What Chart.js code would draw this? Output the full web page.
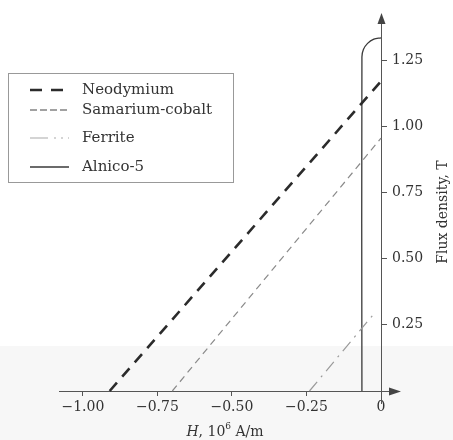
<!DOCTYPE html>
<html>
<head>
<meta charset="utf-8">
<script src="https://cdn.jsdelivr.net/npm/chart.js@4"></script>
<style>
  html, body { margin: 0; padding: 0; background: #fff; }
  #wrap { width: 453px; height: 440px; }
</style>
</head>
<body>
<div id="wrap"><canvas id="bh"></canvas></div>
<script>
// tick values
const hTicks = [-1.00, -0.75, -0.50, -0.25, 0];
const bTicks = [0.25, 0.50, 0.75, 1.00, 1.25];

// demagnetization curves, H in 10^6 A/m, B in T
const seriesNames = ['Neodymium', 'Samarium-cobalt', 'Ferrite', 'Alnico-5'];
const neodymiumH = [-0.91, 0];
const neodymiumB = [0, 1.17];
const samariumH = [-0.70, 0];
const samariumB = [0, 0.955];
const ferriteH = [-0.24, -0.025];
const ferriteB = [0, 0.29];
const alnicoH = [-0.064, -0.064, -0.059, -0.045, -0.024, 0];
const alnicoB = [0, 1.262, 1.290, 1.313, 1.329, 1.334];

const serif = "'DejaVu Serif', serif";
const ink = '#333';

function pts(hs, bs) {
    return hs.map((h, i) => ({ x: h, y: bs[i] }));
}

// legend rows (y in px) - legend is drawn by hand to get the boxed look
const legendRows = [90, 110, 138, 167];

const decorations = {
    id: 'decorations',
    beforeDraw(chart) {
        const ctx = chart.ctx;
        ctx.save();
        ctx.fillStyle = '#fff';
        ctx.fillRect(0, 0, chart.width, chart.height);
        // faint scan shading at the bottom
        ctx.fillStyle = '#f7f7f7';
        ctx.fillRect(0, 346, chart.width, chart.height - 346);
        ctx.restore();
    },
    afterDraw(chart) {
        const ctx = chart.ctx;
        const a = chart.chartArea;
        ctx.save();
        ctx.strokeStyle = '#555';
        ctx.fillStyle = '#444';
        ctx.lineWidth = 1;
        // x axis run-out + arrow
        ctx.beginPath();
        ctx.moveTo(a.right, a.bottom + 0.5);
        ctx.lineTo(392, a.bottom + 0.5);
        ctx.stroke();
        ctx.beginPath();
        ctx.moveTo(401, a.bottom + 0.5);
        ctx.lineTo(389, a.bottom - 3.5);
        ctx.lineTo(389, a.bottom + 4.5);
        ctx.closePath();
        ctx.fill();
        // y axis run-out below + arrow on top
        ctx.beginPath();
        ctx.moveTo(a.right + 0.5, a.bottom);
        ctx.lineTo(a.right + 0.5, 404);
        ctx.stroke();
        ctx.beginPath();
        ctx.moveTo(a.right + 0.5, 13);
        ctx.lineTo(a.right - 3.5, a.top + 1);
        ctx.lineTo(a.right + 4.5, a.top + 1);
        ctx.closePath();
        ctx.fill();

        // axis titles
        ctx.fillStyle = ink;
        ctx.textBaseline = 'middle';
        ctx.save();
        ctx.translate(443, 212);
        ctx.rotate(-Math.PI / 2);
        ctx.textAlign = 'center';
        ctx.font = '14px ' + serif;
        ctx.fillText('Flux density, T', 0, 0);
        ctx.restore();

        const cx = 225, cy = 432;
        const parts = [
            { t: 'H', f: 'italic 14px ' + serif, dy: 0 },
            { t: ', 10', f: '14px ' + serif, dy: 0 },
            { t: '6', f: '9px ' + serif, dy: -5 },
            { t: ' A/m', f: '14px ' + serif, dy: 0 }
        ];
        let total = 0;
        parts.forEach(p => { ctx.font = p.f; p.w = ctx.measureText(p.t).width; total += p.w; });
        let x = cx - total / 2;
        ctx.textAlign = 'left';
        parts.forEach(p => { ctx.font = p.f; ctx.fillText(p.t, x, cy + p.dy); x += p.w; });

        // legend box
        ctx.strokeStyle = '#999';
        ctx.lineWidth = 1;
        ctx.strokeRect(8.5, 73.5, 225, 109);
        chart.data.datasets.forEach((ds, i) => {
            const y = legendRows[i];
            ctx.save();
            ctx.strokeStyle = ds.legendColor || ds.borderColor;
            ctx.lineWidth = ds.borderWidth;
            ctx.setLineDash(ds.legendDash || ds.borderDash || []);
            ctx.beginPath();
            ctx.moveTo(30, y);
            ctx.lineTo(69, y);
            ctx.stroke();
            ctx.restore();
            ctx.font = '15px ' + serif;
            ctx.fillStyle = ink;
            ctx.textAlign = 'left';
            ctx.fillText(ds.label, 82, y);
        });
        ctx.restore();
    }
};

new Chart(document.getElementById('bh'), {
    type: 'scatter',
    data: {
        datasets: [
            {
                label: seriesNames[0],
                data: pts(neodymiumH, neodymiumB),
                borderColor: '#2b2b2b',
                borderWidth: 2.6,
                borderDash: [11, 8],
                legendDash: [12, 9]
            },
            {
                label: seriesNames[1],
                data: pts(samariumH, samariumB),
                borderColor: '#8a8a8a',
                legendColor: '#444',
                borderWidth: 1.2,
                borderDash: [7, 5],
                legendDash: [7, 3]
            },
            {
                label: seriesNames[2],
                data: pts(ferriteH, ferriteB),
                borderColor: '#9a9a9a',
                legendColor: '#aaa',
                borderWidth: 1.2,
                borderDash: [12, 6, 2, 6],
                legendDash: [18, 6, 2, 5, 2, 5]
            },
            {
                label: seriesNames[3],
                data: pts(alnicoH, alnicoB),
                borderColor: '#3a3a3a',
                borderWidth: 1.3,
                tension: 0.35
            }
        ]
    },
    options: {
        responsive: true,
        maintainAspectRatio: false,
        animation: false,
        showLine: true,
        clip: false,
        elements: { point: { radius: 0, hoverRadius: 0 } },
        layout: { padding: { left: 59, top: 23, right: 0, bottom: 0 } },
        plugins: { legend: { display: false }, tooltip: { enabled: false } },
        scales: {
            x: {
                type: 'linear',
                min: -1.08,
                max: 0,
                afterBuildTicks: s => { s.ticks = hTicks.map(v => ({ value: v })); },
                afterFit: s => { s.height = 49; },
                grid: { drawOnChartArea: false, drawTicks: true, tickLength: 5, color: '#555' },
                border: { display: true, color: '#555', width: 1 },
                ticks: {
                    padding: 3,
                    color: ink,
                    font: { family: serif, size: 14 },
                    maxRotation: 0,
                    callback: v => v === 0 ? '0' : '\u2212' + Math.abs(v).toFixed(2)
                }
            },
            y: {
                type: 'linear',
                position: 'right',
                min: 0,
                max: 1.39,
                afterBuildTicks: s => { s.ticks = bTicks.map(v => ({ value: v })); },
                afterFit: s => { s.width = 72; },
                grid: { drawOnChartArea: false, drawTicks: true, tickLength: 6, color: '#555' },
                border: { display: true, color: '#555', width: 1 },
                ticks: {
                    padding: 5,
                    color: ink,
                    font: { family: serif, size: 14 },
                    callback: v => v.toFixed(2)
                }
            }
        }
    },
    plugins: [decorations]
});
</script>
</body>
</html>
